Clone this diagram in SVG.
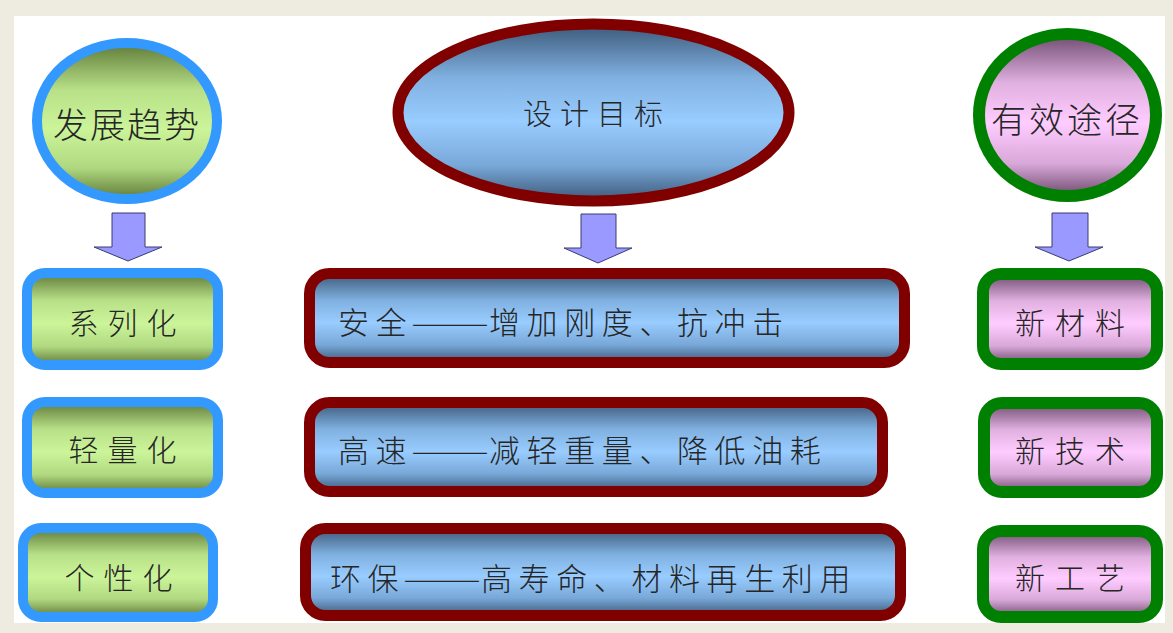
<svg xmlns="http://www.w3.org/2000/svg" width="1173" height="633" viewBox="0 0 1173 633">
<style>
  .t { font-family: "Noto Sans CJK SC", "Noto Sans", sans-serif; font-weight: 300; fill: #262626; dominant-baseline: central; text-anchor: middle; }
  .tl { font-family: "Noto Sans CJK SC", "Noto Sans", sans-serif; font-weight: 300; fill: #262626; dominant-baseline: central; font-size: 31px; letter-spacing: 6.6px; }
  .dash { font-family: "Noto Sans CJK SC", "Noto Sans", sans-serif; font-weight: 300; fill: #262626; dominant-baseline: central; font-size: 31px; }
  .blue { stroke: #3399ff; stroke-width: 10; fill: url(#gGreen); }
  .red { stroke: #800000; stroke-width: 11; fill: url(#gBlue); }
  .grn { stroke: #008000; stroke-width: 12; fill: url(#gPink); }
  .arr { fill: #9999ff; stroke: #3a3a70; stroke-width: 1; }
</style>
<defs>
  <linearGradient id="gGreen" x1="0" y1="0" x2="0" y2="1">
    <stop offset="0" stop-color="#5e7a38"/>
    <stop offset="0.3" stop-color="#b8e088"/>
    <stop offset="0.55" stop-color="#ccf59a"/>
    <stop offset="0.8" stop-color="#b0d880"/>
    <stop offset="1" stop-color="#5e7a38"/>
  </linearGradient>
  <linearGradient id="gBlue" x1="0" y1="0" x2="0" y2="1">
    <stop offset="0" stop-color="#3c5878"/>
    <stop offset="0.3" stop-color="#7fb0e0"/>
    <stop offset="0.55" stop-color="#99ccff"/>
    <stop offset="0.8" stop-color="#78a8d8"/>
    <stop offset="1" stop-color="#3c5878"/>
  </linearGradient>
  <linearGradient id="gPink" x1="0" y1="0" x2="0" y2="1">
    <stop offset="0" stop-color="#6e4a6e"/>
    <stop offset="0.3" stop-color="#e0b0e0"/>
    <stop offset="0.55" stop-color="#ffccff"/>
    <stop offset="0.8" stop-color="#d8a8d8"/>
    <stop offset="1" stop-color="#6e4a6e"/>
  </linearGradient>
</defs>

<rect x="0" y="0" width="1173" height="633" fill="#eeece1"/>
<rect x="14" y="16" width="1151" height="607" fill="#ffffff"/>

<g id="connectors">
  <path class="arr" d="M112,213 H145 V247 H162 L128,261 L94,247 H112 Z"/>
  <path class="arr" d="M581,214 H616 V248 H632 L598,263 L564,248 H581 Z"/>
  <path class="arr" d="M1052,213 H1088 V247 H1103 L1069,261 L1035,247 H1052 Z"/>
</g>

<g id="trend">
  <ellipse class="blue" cx="127" cy="121" rx="90" ry="78"/>
  <text class="t" x="127" y="122" font-size="35" letter-spacing="2">发展趋势</text>
</g>
<g id="goal">
  <ellipse class="red" cx="593.5" cy="112.5" rx="195.5" ry="88.5" stroke-width="12"/>
  <text class="t" x="597" y="112" font-size="29" letter-spacing="8">设计目标</text>
</g>
<g id="path">
  <ellipse class="grn" cx="1067.5" cy="115" rx="88.5" ry="81"/>
  <text class="t" x="1067" y="117" font-size="35" letter-spacing="3">有效途径</text>
</g>

<g id="serial">
  <rect class="blue" x="27" y="273" width="191" height="92" rx="18"/>
  <text class="t" x="127" y="321" font-size="30" letter-spacing="9">系列化</text>
</g>
<g id="light">
  <rect class="blue" x="27" y="402" width="191" height="91" rx="18"/>
  <text class="t" x="127" y="448" font-size="30" letter-spacing="9">轻量化</text>
</g>
<g id="personal">
  <rect class="blue" x="23" y="528" width="190" height="89" rx="18"/>
  <text class="t" x="123" y="576" font-size="30" letter-spacing="9">个性化</text>
</g>

<g id="safety">
  <rect class="red" x="309.5" y="273.5" width="595" height="89" rx="20"/>
  <text class="tl" x="338" y="320">安全</text>
  <text class="dash" x="411" y="320" textLength="78" lengthAdjust="spacingAndGlyphs">——</text>
  <text class="tl" x="489" y="320">增加刚度、抗冲击</text>
</g>
<g id="speed">
  <rect class="red" x="309.5" y="402.5" width="573" height="89" rx="20"/>
  <text class="tl" x="338" y="448">高速</text>
  <text class="dash" x="411" y="448" textLength="78" lengthAdjust="spacingAndGlyphs">——</text>
  <text class="tl" x="489" y="448">减轻重量、降低油耗</text>
</g>
<g id="eco">
  <rect class="red" x="305.5" y="528.5" width="595" height="87" rx="20"/>
  <text class="tl" x="330" y="576">环保</text>
  <text class="dash" x="403" y="576" textLength="78" lengthAdjust="spacingAndGlyphs">——</text>
  <text class="tl" x="481" y="576">高寿命、材料再生利用</text>
</g>

<g id="material">
  <rect class="grn" x="983" y="274" width="174" height="90" rx="18"/>
  <text class="t" x="1075" y="321" font-size="30" letter-spacing="10">新材料</text>
</g>
<g id="tech">
  <rect class="grn" x="984" y="403" width="173" height="89" rx="18"/>
  <text class="t" x="1075" y="449" font-size="30" letter-spacing="10">新技术</text>
</g>
<g id="craft">
  <rect class="grn" x="983" y="531" width="174" height="86" rx="18"/>
  <text class="t" x="1075" y="576" font-size="30" letter-spacing="10">新工艺</text>
</g>
</svg>
